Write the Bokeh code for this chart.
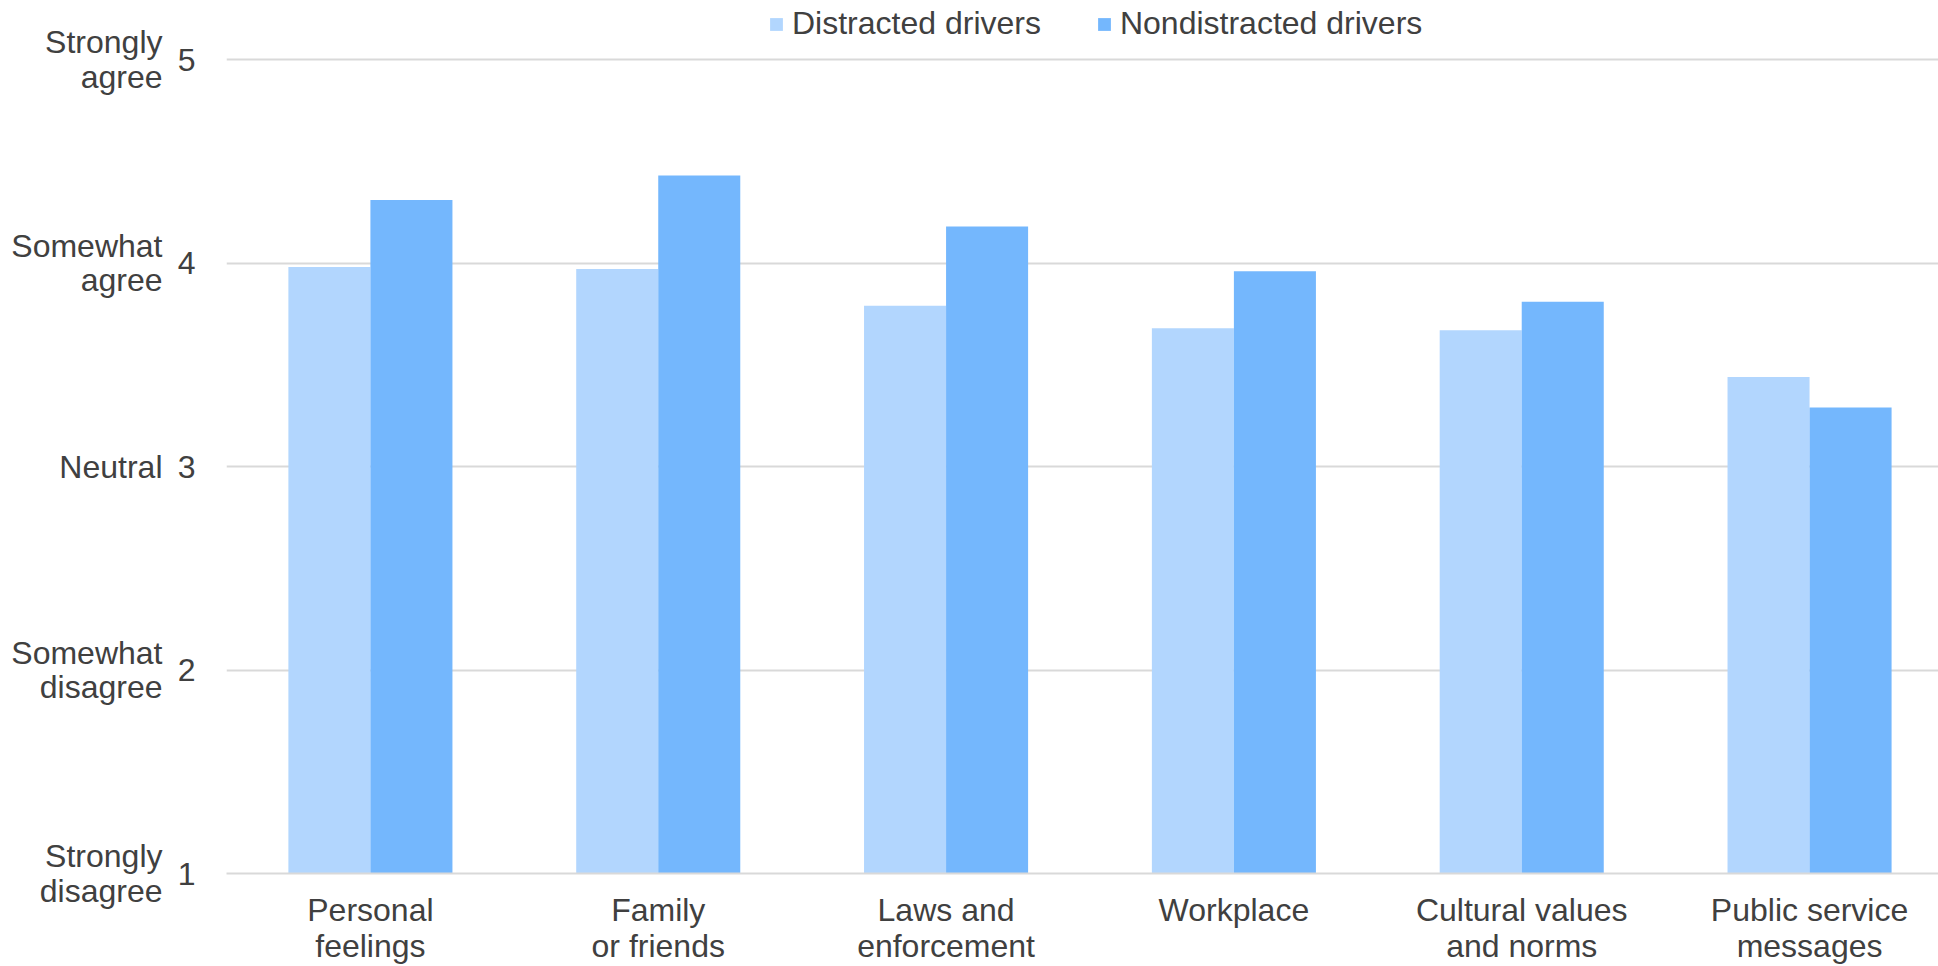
from bokeh.plotting import figure
from bokeh.models import (Range1d, FixedTicker, LinearAxis, Legend, LegendItem,
                          ColumnDataSource)
from bokeh.embed import file_html
from bokeh.resources import INLINE

# Survey categories and mean agreement scores (1 = strongly disagree, 5 = strongly agree)
categories = ["Personal\nfeelings", "Family\nor friends", "Laws and\nenforcement",
              "Workplace", "Cultural values\nand norms", "Public service\nmessages"]
distracted = [3.98, 3.97, 3.79, 3.68, 3.67, 3.44]
nondistracted = [4.31, 4.43, 4.18, 3.96, 3.81, 3.29]

scale_values = [1, 2, 3, 4, 5]
scale_labels = ["Strongly\ndisagree", "Somewhat\ndisagree", "Neutral",
                "Somewhat\nagree", "Strongly\nagree"]

FONT = "Liberation Sans"
FSIZE = "32px"
TEXT = "#404040"
GRID = "#d9d9d9"
LIGHT = "#b2d6fe"
DARK = "#74b7fd"
BAR_W = 0.285

centers = [i + 0.5 for i in range(len(categories))]

p = figure(width=1938, height=966, output_backend="svg", toolbar_location=None,
           x_range=Range1d(0, 5.948), y_range=Range1d(1, 5.29),
           min_border_left=226, min_border_right=0, min_border_top=0,
           min_border_bottom=0)
p.outline_line_color = None
p.background_fill_color = "white"
p.border_fill_color = "white"

src = ColumnDataSource(dict(
    xd=[c - BAR_W / 2 for c in centers],
    xn=[c + BAR_W / 2 for c in centers],
    d=distracted, n=nondistracted))

r1 = p.vbar(x="xd", top="d", bottom=1, width=BAR_W, source=src,
            fill_color=LIGHT, line_color=None)
r2 = p.vbar(x="xn", top="n", bottom=1, width=BAR_W, source=src,
            fill_color=DARK, line_color=None)

# x axis: category names under each group
xa = p.xaxis[0]
xa.ticker = FixedTicker(ticks=centers)
xa.major_label_overrides = {c: lab for c, lab in zip(centers, categories)}
xa.axis_line_color = GRID
xa.axis_line_width = 2
xa.major_tick_line_color = None
xa.minor_tick_line_color = None
xa.major_label_text_font = FONT
xa.major_label_text_font_size = FSIZE
xa.major_label_text_color = TEXT
xa.major_label_text_line_height = 1.0
xa.major_label_standoff = 12
p.xgrid.visible = False

# inner y axis: numeric scale
ya = p.yaxis[0]
ya.ticker = FixedTicker(ticks=scale_values)
ya.axis_line_color = None
ya.major_tick_line_color = None
ya.minor_tick_line_color = None
ya.major_label_text_font = FONT
ya.major_label_text_font_size = FSIZE
ya.major_label_text_color = TEXT
ya.major_label_standoff = 25

# outer y axis: verbal scale labels
ya2 = LinearAxis(ticker=FixedTicker(ticks=scale_values),
                 major_label_overrides={v: l for v, l in zip(scale_values, scale_labels)})
ya2.axis_line_color = None
ya2.major_tick_line_color = None
ya2.minor_tick_line_color = None
ya2.major_label_text_font = FONT
ya2.major_label_text_font_size = FSIZE
ya2.major_label_text_color = TEXT
ya2.major_label_text_line_height = 0.97
ya2.major_label_standoff = 6
p.add_layout(ya2, "left")

p.ygrid.ticker = FixedTicker(ticks=scale_values)
p.ygrid.grid_line_color = GRID
p.ygrid.grid_line_width = 2

legend = Legend(items=[LegendItem(label="Distracted drivers", renderers=[r1]),
                       LegendItem(label="Nondistracted drivers", renderers=[r2])],
                orientation="horizontal", location=(542, 831),
                glyph_width=16, glyph_height=16, label_standoff=8, spacing=55,
                padding=0, margin=0, border_line_color=None,
                background_fill_alpha=0,
                label_text_font=FONT, label_text_font_size=FSIZE,
                label_text_color=TEXT)
p.add_layout(legend)

open("out.html", "w").write(file_html(p, INLINE))
